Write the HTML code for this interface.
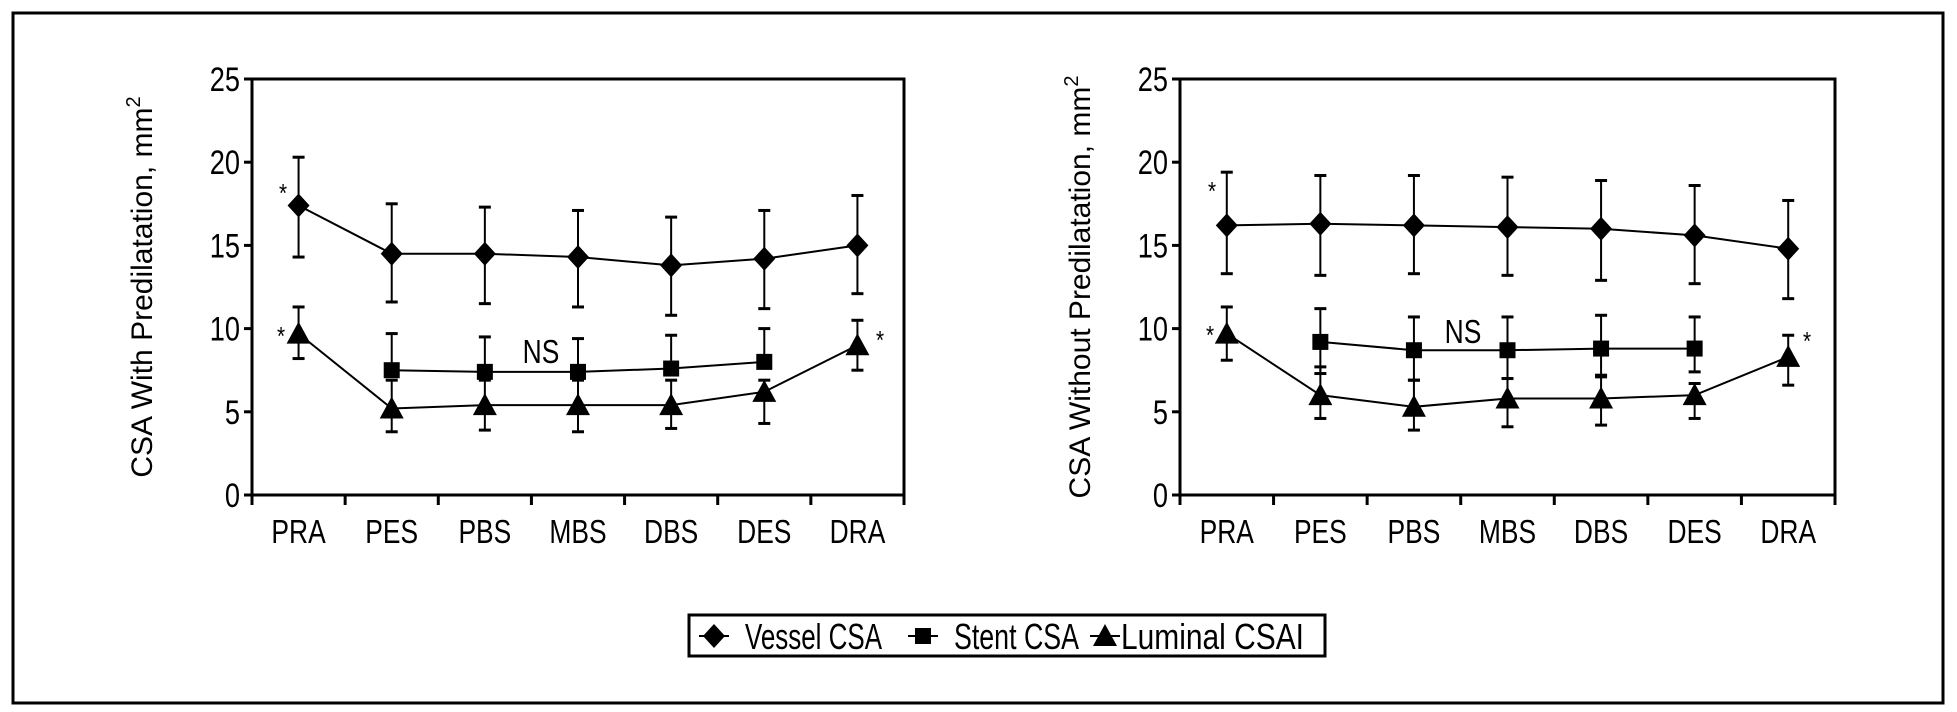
<!DOCTYPE html>
<html><head><meta charset="utf-8"><style>
html,body{margin:0;padding:0;background:#fff;}
svg{display:block;font-family:"Liberation Sans",sans-serif;}
</style></head><body>
<svg id="svg" width="1957" height="712" viewBox="0 0 1957 712" xmlns="http://www.w3.org/2000/svg">
<rect x="13" y="13" width="1930" height="690" fill="none" stroke="#000" stroke-width="3"/>
<g id="legend">
<rect x="689" y="615" width="636" height="41" fill="#fff" stroke="#000" stroke-width="3"/>
</g>
</svg>
<script>
const NS="http://www.w3.org/2000/svg";
const svg=document.getElementById('svg');
const categories=["PRA","PES","PBS","MBS","DBS","DES","DRA"];
const yTicks=[0,5,10,15,20,25];
// left chart (with predilatation)
const L_vessel=[17.4,14.5,14.5,14.3,13.8,14.2,15.0];
const L_vesselLo=[14.3,11.6,11.5,11.3,10.8,11.2,12.1];
const L_vesselHi=[20.3,17.5,17.3,17.1,16.7,17.1,18.0];
const L_stent=[null,7.5,7.4,7.4,7.6,8.0,null];
const L_stentLo=[null,7.5,7.4,7.4,7.6,8.0,null];
const L_stentHi=[null,9.7,9.5,9.4,9.6,10.0,null];
const L_lumen=[9.7,5.2,5.4,5.4,5.4,6.2,9.0];
const L_lumenLo=[8.2,3.8,3.9,3.8,4.0,4.3,7.5];
const L_lumenHi=[11.3,6.9,6.9,6.9,6.9,6.9,10.5];
// right chart (without predilatation)
const R_vessel=[16.2,16.3,16.2,16.1,16.0,15.6,14.8];
const R_vesselLo=[13.3,13.2,13.3,13.2,12.9,12.7,11.8];
const R_vesselHi=[19.4,19.2,19.2,19.1,18.9,18.6,17.7];
const R_stent=[null,9.2,8.7,8.7,8.8,8.8,null];
const R_stentLo=[null,7.3,6.9,7.0,7.1,7.4,null];
const R_stentHi=[null,11.2,10.7,10.7,10.8,10.7,null];
const R_lumen=[9.7,6.0,5.3,5.8,5.8,6.0,8.3];
const R_lumenLo=[8.1,4.6,3.9,4.1,4.2,4.6,6.6];
const R_lumenHi=[11.3,7.7,6.9,7.0,7.2,6.7,9.6];

function el(tag,attrs,parent){const e=document.createElementNS(NS,tag);for(const k in attrs)e.setAttribute(k,attrs[k]);(parent||svg).appendChild(e);return e;}
function ctext(x,y,str,size,anchor,sx,parent){
  const t=el('text',{transform:`translate(${x},${y}) scale(${sx},1)`,'font-size':size,'text-anchor':anchor},parent);
  t.textContent=str;return t;}
function diamond(x,y,g){return el('path',{d:`M${x} ${y-12}L${x+11} ${y}L${x} ${y+12}L${x-11} ${y}Z`,fill:'#000'},g);}
function square(x,y,g){return el('rect',{x:x-8,y:y-8,width:16,height:16,fill:'#000'},g);}
function tri(x,y,g){return el('path',{d:`M${x} ${y-12}L${x+12} ${y+10}L${x-12} ${y+10}Z`,fill:'#000'},g);}

function chart(x0,x1,title,titleX,V,Vlo,Vhi,S,Slo,Shi,Lm,Llo,Lhi,name){
  const y0=495,y1=79;
  const g=el('g',{});
  
  
  const bw=(x1-x0)/categories.length;
  const X=i=>x0+bw*(i+0.5);
  const Y=v=>y0-(v/25)*(y0-y1);
  const ax=el('path',{d:`M${x0} ${y1}L${x1} ${y1}L${x1} ${y0}M${x0} ${y1}L${x0} ${y0}L${x1} ${y0}`,fill:'none',stroke:'#000','stroke-width':3},g);
  
  
  yTicks.forEach(v=>{
    el('line',{x1:x0-8,x2:x0,y1:Y(v),y2:Y(v),stroke:'#000','stroke-width':3},g);
    const t=ctext(x0-12,Y(v)+12,String(v),34,'end',0.8,g);
    
    
  });
  for(let i=0;i<=categories.length;i++){
    el('line',{x1:x0+bw*i,x2:x0+bw*i,y1:y0,y2:y0+10,stroke:'#000','stroke-width':3},g);
  }
  categories.forEach((c,i)=>{
    const t=ctext(X(i),y0+48,c,33,'middle',0.8,g);
    
    
  });
  const tt=el('text',{transform:`translate(${titleX},${(y0+y1)/2}) rotate(-90)`,'font-size':30,'text-anchor':'middle'},g);
  tt.innerHTML=title+', mm<tspan font-size="20" dy="-12">2</tspan>';
  
  
  function series(vals,lo,hi,mk,nm){
    const sg=el('g',{},g);
    
    
    vals.forEach((v,i)=>{ if(v==null)return;
      el('line',{x1:X(i),x2:X(i),y1:Y(lo[i]),y2:Y(hi[i]),stroke:'#000','stroke-width':2},sg);
      [lo[i],hi[i]].forEach(b=>el('line',{x1:X(i)-6,x2:X(i)+6,y1:Y(b),y2:Y(b),stroke:'#000','stroke-width':3},sg));
    });
    let d='';vals.forEach((v,i)=>{if(v==null)return;d+=(d?'L':'M')+X(i)+' '+Y(v);});
    el('path',{d,fill:'none',stroke:'#000','stroke-width':2},sg);
    vals.forEach((v,i)=>{if(v==null)return;const m=mk(X(i),Y(v),sg);
      
      });
  }
  series(V,Vlo,Vhi,diamond,'vessel-csa-series');
  series(S,Slo,Shi,square,'stent-csa-series');
  series(Lm,Llo,Lhi,tri,'luminal-csa-series');
  return {g,X,Y};
}
const A=chart(252,904,'CSA With Predilatation',152,L_vessel,L_vesselLo,L_vesselHi,L_stent,L_stentLo,L_stentHi,L_lumen,L_lumenLo,L_lumenHi,'chart-with-predilatation');
const B=chart(1180,1835,'CSA Without Predilatation',1090,R_vessel,R_vesselLo,R_vesselHi,R_stent,R_stentLo,R_stentHi,R_lumen,R_lumenLo,R_lumenHi,'chart-without-predilatation');
function note(x,y,s,size,nm){const t=ctext(x,y,s,size,'middle',0.8);
  
  }
note(283,202,'*',26,'asterisk');note(281,345,'*',26,'asterisk');note(880,349,'*',26,'asterisk');
note(1212,200,'*',26,'asterisk');note(1210,344,'*',26,'asterisk');note(1807,350,'*',26,'asterisk');
note(541,363,'NS',33,'ns-label');note(1463,343,'NS',33,'ns-label');
// legend entries
const lg=document.getElementById('legend');
function entry(lx,tx,tw,mk,label,nm){
  const g=el('g',{},lg);
  
  
  el('line',{x1:lx-15,x2:lx+15,y1:636,y2:636,stroke:'#000','stroke-width':2},g);
  mk(lx,636,g);
  const t=el('text',{x:tx,y:649,'font-size':36,textLength:tw,lengthAdjust:'spacingAndGlyphs'},g);
  t.textContent=label;
}
entry(714,745,137,diamond,'Vessel CSA','legend-entry-vessel');
entry(923,954,125,square,'Stent CSA','legend-entry-stent');
entry(1105,1121,183,tri,'Luminal CSAI','legend-entry-luminal');
</script>
</body></html>
